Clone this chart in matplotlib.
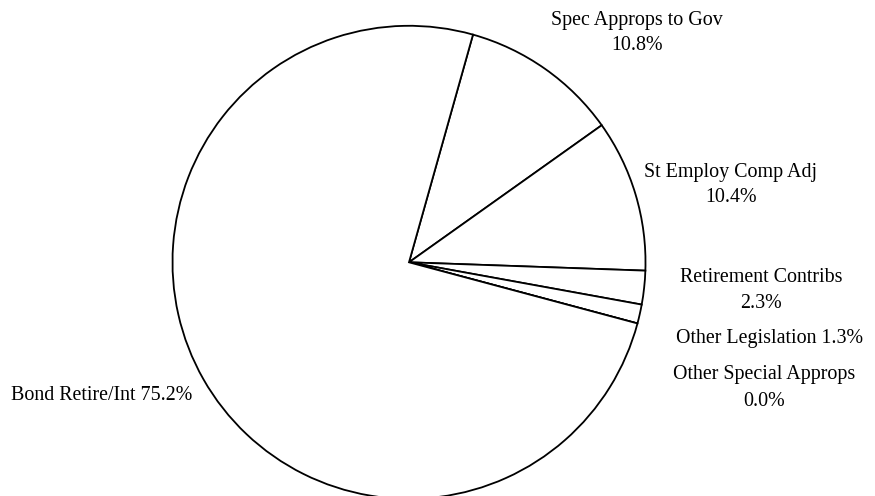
import matplotlib.pyplot as plt

plt.rcParams['font.family'] = ['Liberation Serif', 'DejaVu Serif']

# slices, clockwise from the top
names = ["Spec Approps to Gov", "St Employ Comp Adj", "Retirement Contribs",
         "Other Legislation", "Other Special Approps", "Bond Retire/Int"]
pcts = [10.8, 10.4, 2.3, 1.3, 0.0, 75.2]

# label text layout: (x, y) in pixels from top-left, one-line or two-line
label_pos = [(637, 33), (731, 185), (761, 290), (769, 338), (764, 388), (102, 395)]
two_line = [True, True, True, False, True, False]

fig = plt.figure(figsize=(8.75, 4.96), dpi=100)
ax = fig.add_axes([0, 0, 1, 1])

ax.pie(pcts, center=(409, 496 - 262.3), radius=236.5, startangle=74.3,
       counterclock=False, colors=['white'] * len(pcts),
       wedgeprops=dict(edgecolor='black', linewidth=1.3), frame=True)
ax.set_xlim(0, 875)
ax.set_ylim(0, 496)
ax.set_aspect('equal')
ax.axis('off')

for name, p, (x, y), two in zip(names, pcts, label_pos, two_line):
    sep = "\n" if two else " "
    ax.text(x, 496 - y, f"{name}{sep}{p:.1f}%", ha='center', va='center',
            fontsize=14.4, linespacing=1.5)

fig.savefig("out.png", dpi=100)
